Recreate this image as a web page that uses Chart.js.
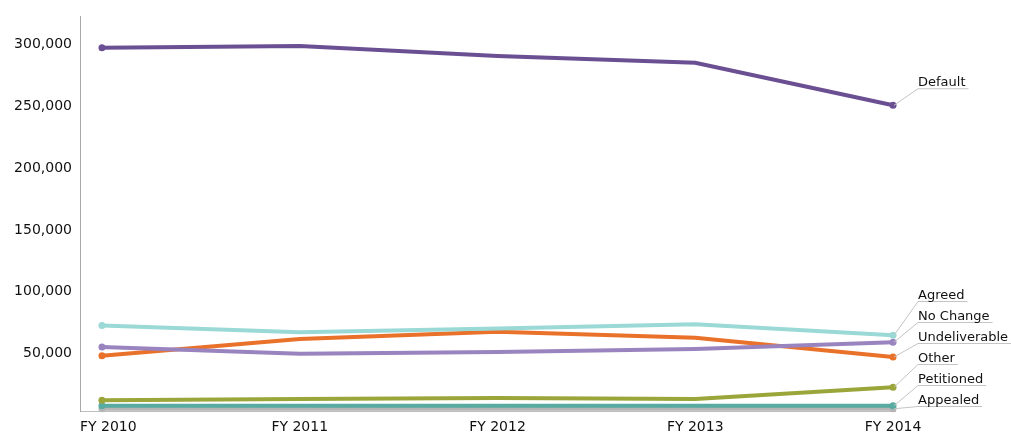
<!DOCTYPE html>
<html><head><meta charset="utf-8">
<script src="https://cdn.jsdelivr.net/npm/chart.js@4.4.0/dist/chart.umd.min.js"></script>
<style>html,body{margin:0;padding:0;background:#fff;}canvas{display:block;}</style>
</head><body>
<canvas id="c" width="1011" height="436"></canvas>
<script>
const categories = ['FY 2010','FY 2011','FY 2012','FY 2013','FY 2014'];
const seriesNames = ['Default','Agreed','No Change','Undeliverable','Other','Petitioned','Appealed'];
const defaultVals = [297500, 299000, 291000, 285500, 251000];
const agreedVals = [72500, 67000, 70000, 73500, 64500];
const noChangeVals = [55000, 49500, 51000, 53500, 59000];
const undeliverableVals = [48000, 61500, 67500, 62500, 47000];
const otherVals = [12000, 13000, 13800, 13000, 22500];
const petitionedVals = [7500, 7500, 7500, 7500, 7500];
const appealedVals = [5000, 5000, 5000, 5000, 5000];
const yTickValues = [50000, 100000, 150000, 200000, 250000, 300000];
const seriesColors = ['#6b4f93','#9ad9d6','#9a84bf','#e9712a','#9aa63a','#57aba1','#b5b5b5'];

const allVals = [defaultVals, agreedVals, noChangeVals, undeliverableVals, otherVals, petitionedVals, appealedVals];
const FONT = 'DejaVu Sans';

const datasets = allVals.map((vals, i) => ({
  label: seriesNames[i],
  data: vals.map((v, j) => ({x: j, y: v})),
  borderColor: seriesColors[i],
  backgroundColor: seriesColors[i],
  borderWidth: 4,
  pointRadius: vals.map((v, j) => (j === 0 || j === vals.length - 1) ? 3.5 : 0),
  pointHoverRadius: 0,
  pointBorderWidth: 0,
  tension: 0,
  clip: false
}));

const labelPlugin = {
  id: 'labels',
  afterDatasetsDraw(chart) {
    const ctx = chart.ctx;
    const xs = chart.scales.x, ys = chart.scales.y;
    const area = chart.chartArea;
    ctx.save();
    ctx.font = '14px "' + FONT + '"';
    ctx.fillStyle = '#111';
    ctx.textBaseline = 'middle';
    ctx.textAlign = 'center';
    categories.forEach((c, j) => {
      const w = ctx.measureText(c).width;
      let px = xs.getPixelForValue(j);
      px = Math.max(px, area.left + w / 2);
      ctx.fillText(c, px, area.bottom + 16);
    });
    ctx.font = '13px "' + FONT + '"';
    ctx.textAlign = 'left';
    ctx.textBaseline = 'alphabetic';
    const last = categories.length - 1;
    const lx = xs.getPixelForValue(last) + 25;
    let prev = area.bottom + 16;
    const ul = [];
    for (let i = allVals.length - 1; i >= 0; i--) {
      const py = ys.getPixelForValue(allVals[i][last]);
      let y = Math.min(py, prev - 21);
      if (i === 0) y = py - 17;
      ul[i] = y;
      prev = y;
    }
    for (let i = 0; i < allVals.length; i++) {
      const px = xs.getPixelForValue(last);
      const py = ys.getPixelForValue(allVals[i][last]);
      const y = ul[i];
      const w = ctx.measureText(seriesNames[i]).width;
      ctx.strokeStyle = '#c4c4c4';
      ctx.lineWidth = 1;
      ctx.beginPath();
      ctx.moveTo(px + 1, py);
      ctx.lineTo(lx, y + 0.5);
      ctx.lineTo(lx + w + 3, y + 0.5);
      ctx.stroke();
      ctx.fillStyle = '#111';
      ctx.fillText(seriesNames[i], lx, y - 2);
    }
    ctx.restore();
  }
};

new Chart(document.getElementById('c'), {
  type: 'line',
  data: { datasets },
  options: {
    responsive: false,
    animation: false,
    devicePixelRatio: 1,
    layout: { padding: { top: 13, right: 116, left: 0, bottom: 0 } },
    plugins: { legend: { display: false }, tooltip: { enabled: false } },
    scales: {
      x: {
        type: 'linear',
        min: -0.111,
        max: 4.01,
        grid: { display: false, drawTicks: false },
        border: { display: true, color: '#bdbdbd', width: 1 },
        ticks: { display: false },
        afterFit(s) { s.height = 25; }
      },
      y: {
        type: 'linear',
        min: 3200,
        max: 323000,
        grid: { display: false, drawTicks: false },
        border: { display: true, color: '#a8a8a8', width: 1 },
        afterBuildTicks(s) { s.ticks = yTickValues.map(v => ({ value: v })); },
        ticks: {
          padding: 8,
          color: '#111',
          font: { family: FONT, size: 14 },
          callback: v => Number(v).toLocaleString('en-US')
        },
        afterFit(s) { s.width = 80; }
      }
    }
  },
  plugins: [labelPlugin]
});
</script>
</body></html>
